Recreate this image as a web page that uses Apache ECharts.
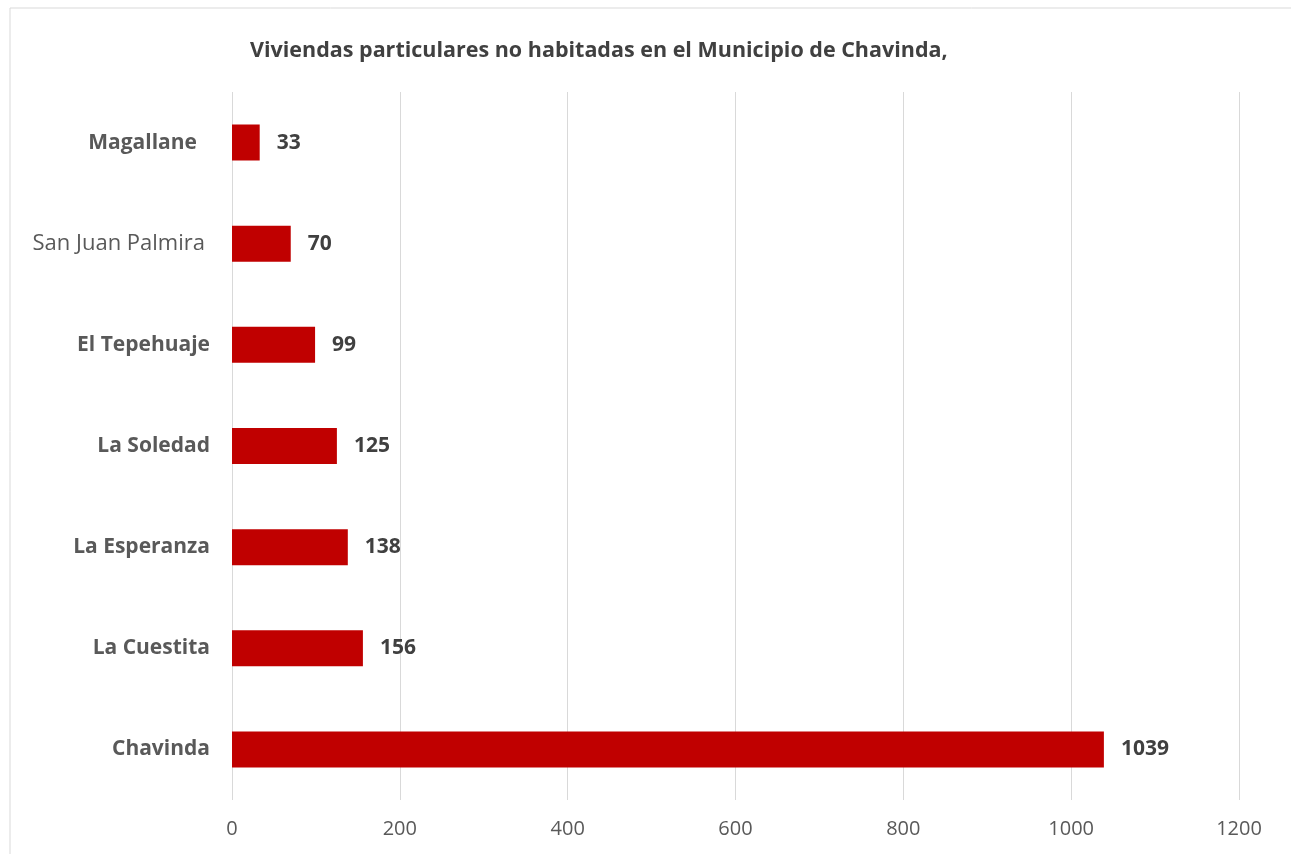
<!DOCTYPE html>
<html>
<head>
<meta charset="utf-8">
<script src="https://cdn.jsdelivr.net/npm/echarts@6/dist/echarts.min.js"></script>
<style>
html,body{margin:0;padding:0;background:#fff;}
#main{width:1291px;height:854px;}
</style>
</head>
<body>
<div id="main"></div>
<script>
// datos (de abajo hacia arriba)
var localidades = ['Chavinda', 'La Cuestita', 'La Esperanza', 'La Soledad', 'El Tepehuaje', 'San Juan Palmira', 'Magallane'];
var viviendas = [1039, 156, 138, 125, 99, 70, 33];
var ticksX = [0, 200, 400, 600, 800, 1000, 1200];
var titulo = 'Viviendas particulares no habitadas en el Municipio de Chavinda,';

var chart = echarts.init(document.getElementById('main'));
chart.setOption({
    animation: false,
    textStyle: { fontFamily: 'Open Sans' },
    title: {
        text: titulo,
        left: 245,
        top: 35,
        textStyle: { fontSize: 21.5, fontWeight: 'bold', color: '#404040', fontFamily: 'Open Sans' }
    },
    graphic: [{
        type: 'rect',
        shape: { x: 10, y: 8, width: 1290, height: 860 },
        style: { fill: 'none', stroke: '#d9d9d9', lineWidth: 1 }
    }],
    grid: { left: 232, right: 52, top: 92, bottom: 54 },
    xAxis: {
        type: 'value',
        min: ticksX[0],
        max: ticksX[ticksX.length - 1],
        interval: 200,
        axisLine: { show: false },
        axisTick: { show: false },
        splitLine: { lineStyle: { color: '#d9d9d9' } },
        axisLabel: {
            fontSize: 20,
            color: '#595959',
            margin: 19,
            formatter: function (v) { return String(v); }
        }
    },
    yAxis: {
        type: 'category',
        data: localidades.map(function (n) {
            if (n === 'San Juan Palmira') {
                return { value: n, textStyle: { fontWeight: 'normal', color: '#595959', fontSize: 22, padding: [0, 5, 0, 0] } };
            }
            if (n === 'Magallane') {
                return { value: n, textStyle: { padding: [0, 13, 0, 0] } };
            }
            return n;
        }),
        axisLine: { show: false },
        axisTick: { show: false },
        axisLabel: { fontSize: 21, fontWeight: 'bold', color: '#595959', margin: 22 }
    },
    series: [{
        type: 'bar',
        data: viviendas,
        barWidth: 36,
        itemStyle: { color: '#c00000' },
        label: {
            show: true,
            position: 'right',
            distance: 17,
            fontSize: 21,
            fontWeight: 'bold',
            color: '#404040'
        }
    }]
});
</script>
</body>
</html>
